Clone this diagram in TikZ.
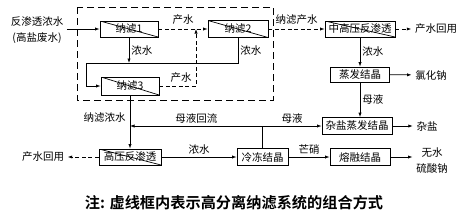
\documentclass[tikz,border=0pt]{standalone}
\usepackage{fontspec}
\setmainfont{Noto Sans CJK SC}[BoldFont={Noto Sans CJK SC Bold}]
\usepackage{tikz}
\usetikzlibrary{positioning}
\usetikzlibrary{calc,arrows.meta}
\newcommand\lblfont{\fontsize{10.5}{16}\selectfont}
\newcommand\notefont{\fontsize{15.2}{17}\selectfont}
\tikzset{
  >={Latex[length=4.5pt,width=3.2pt]},
  box/.style = {draw, minimum height=16pt, inner sep=0pt},
  memb/.style = {box, path picture={\draw (path picture bounding box.north west)
      -- (path picture bounding box.south east);}},
  lbl/.style = {inner sep=2pt},
  flow/.style = {->},
  prod/.style = {->, dash pattern=on 4pt off 2.5pt},
  frame/.style = {dash pattern=on 7pt off 4pt},
}

\begin{document}
\begin{tikzpicture}[x=1pt, y=-1pt, font=\lblfont, line width=0.7pt]
  \useasboundingbox (0,0) rectangle (468,217);
  % nanofiltration units
  \node (n1) [memb, minimum width=58pt] at (129,29) {纳滤1};
  \node (n2) [memb, minimum width=60pt, minimum height=17pt] at (238,29) {纳滤2};
  \node (n3) [memb, minimum width=58pt, minimum height=18pt] at (130,86) {纳滤3};
  \draw[frame] (77,7) rectangle (273,100);
  \node (src) [align=center] at (37,30) {反渗透浓水\\(高盐废水)};
  % downstream units
  \node (ro1)  [memb, minimum width=70pt] at (360,29) {中高压反渗透};
  \node (ev)   [box, minimum width=59pt, minimum height=15pt] at (360,74.5) {蒸发结晶};
  \node (mix)  [box, minimum width=70pt, minimum height=17pt] at (357,126) {杂盐蒸发结晶};
  \node (melt) [box, minimum width=60pt, minimum height=17pt] at (360,157) {熔融结晶};
  \node (frz)  [box, minimum width=51pt, minimum height=17pt] at (262.5,157) {冷冻结晶};
  \node (ro2)  [memb, minimum width=62pt] at (130,157) {高压反渗透};
  % outputs
  \node (reuse1) at (436,29) {产水回用};
  \node (nacl) at (431,75) {氯化钠};
  \node (salt) at (427,126) {杂盐};
  \node (na2so4) [align=center] at (432,161) {无水\\硫酸钠};
  \node (reuse2) at (43,157) {产水回用};
  \node (note) at (234,203) {\notefont\bfseries 注: 虚线框内表示高分离纳滤系统的组合方式};
  % connectors
  \coordinate (cj) at (86,63);
  \coordinate (pj) at (196,29);
  \draw[flow] (src.east |- n1) -- (n1);
  \draw[prod] (n1) -- node[lbl, above=2pt] {产水} (n2);
  \draw[prod] (n3.east) -| node[lbl, left=2pt, pos=0.57] {产水} (pj);
  \draw[flow] (n1.south) -- node[lbl, right] {浓水} (n1.south |- cj);
  \draw[flow] (n2.south) |- node[lbl, right, pos=0.25] {浓水} (cj) |- (n3.west);
  \draw[prod] (n2) -- node[lbl, above=2pt] {纳滤产水} (ro1);
  \draw[prod] (ro1) -- (reuse1);
  \draw[flow] (ro1) -- node[lbl, right] {浓水} (ev);
  \draw[flow] (ev) -- (nacl);
  \draw[flow] (ev) -- node[lbl, right] {母液} (ev |- mix.north);
  \draw[flow] (mix) -- (salt);
  \draw[flow] (n3) -- node[lbl, left=2pt, pos=0.41] {纳滤浓水} (ro2);
  \draw[prod] (ro2) -- (reuse2);
  \draw[flow] (ro2) -- node[lbl, above] {浓水} (frz);
  \draw[flow] (frz) -- node[lbl, above] {芒硝} (melt);
  \draw[flow] (melt) -- (melt -| na2so4.west);
  \draw (frz.north) -- (frz.north |- mix);
  \draw[flow] (frz.north |- mix) -- node[lbl, above] {母液} (mix);
  \draw[flow] (frz.north |- mix) -- node[lbl, above] {母液回流} (n3 |- mix);
\end{tikzpicture}
\end{document}
